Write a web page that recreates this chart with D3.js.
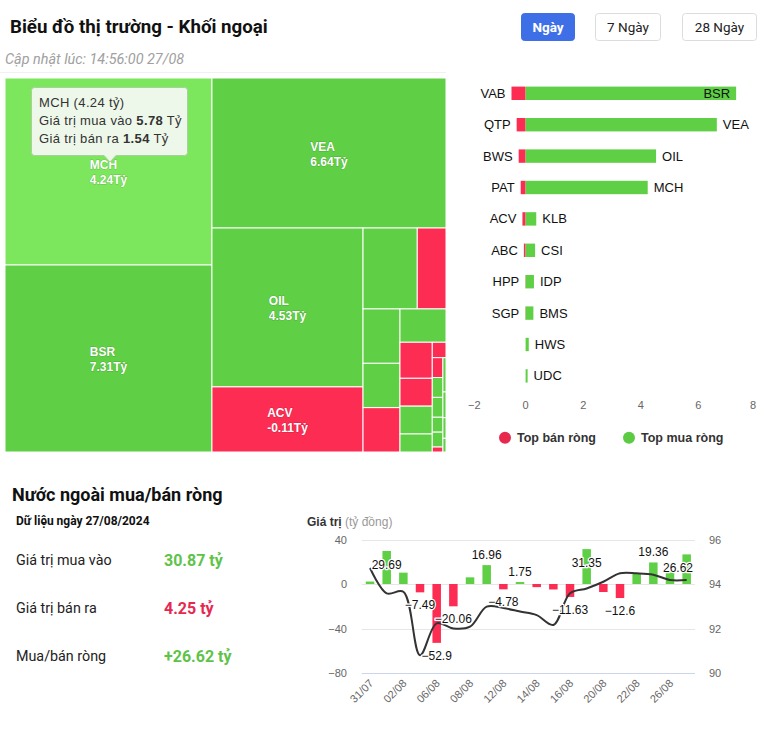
<!DOCTYPE html>
<html><head><meta charset="utf-8">
<script src="https://cdn.jsdelivr.net/npm/d3@7"></script>
<style>
body{margin:0;background:#fff;}
svg{display:block;}
</style></head><body>
<svg id="c" width="764" height="732"></svg>
<script>
// ---------------- DATA ----------------
// Treemap (size = total traded value, net = net buy value, tỷ đồng)
const tmNames = ["MCH","BSR","VEA","OIL","ACV","KLB","VAB","CSI","IDP","QTP","BMS","BWS","PAT","HWS","UDC","ABC","HPP","","","","","SGP","","","",""];
const tmSize  = [7.32,7.32,6.64,4.54,1.86,0.83,0.44,0.38,0.31,0.31,0.29,0.22,0.17,0.17,0.11,0.04,0.04,0.04,0.04,0.03,0.03,0.01,0.02,0.015,0.012,0.008];
const tmNet   = [4.24,7.31,6.64,4.53,-0.11,0.37,-0.44,0.33,0.29,-0.31,0.27,-0.22,-0.17,0.11,0.07,-0.04,-0.01,0.02,0.02,0.01,0.01,-0.01,0.01,0.01,0.01,0.005];
const tmLabeled = ["MCH","BSR","VEA","OIL","ACV"];
const tipName = "MCH", tipNet = 4.24, tipBuy = 5.78, tipSell = 1.54;

// Top net sell / net buy
const sellNames = ["VAB","QTP","BWS","PAT","ACV","ABC","HPP","SGP"];
const sellValues = [-0.49,-0.31,-0.24,-0.17,-0.11,-0.06,-0.01,-0.01];
const buyNames = ["BSR","VEA","OIL","MCH","KLB","CSI","IDP","BMS","HWS","UDC"];
const buyValues = [7.31,6.64,4.53,4.24,0.37,0.33,0.29,0.27,0.11,0.07];
const barTicks = [-2,0,2,4,6,8];

// Net foreign flow history
const dates = ["31/07","01/08","02/08","05/08","06/08","07/08","08/08","09/08","12/08","13/08","14/08","15/08","16/08","19/08","20/08","21/08","22/08","23/08","26/08","27/08"];
const netValues = [2.2,29.69,10.2,-7.49,-52.9,-20.06,6.0,16.96,-4.78,1.75,-2.8,-4.9,-11.63,31.35,-7.2,-12.6,9.2,19.36,12.4,26.62];
const lineValues = [94.72,93.58,93.65,90.8,92.23,92.0,92.08,92.98,92.92,92.76,92.6,92.16,93.58,93.8,94.1,94.48,94.48,94.42,94.18,94.18];
const labeledDates = ["01/08","05/08","06/08","07/08","09/08","12/08","13/08","16/08","19/08","21/08","23/08","27/08"];
const leftTicks = [40,0,-40,-80];
const rightTicks = [96,94,92,90];

// Summary
const sumLabels = ["Giá trị mua vào","Giá trị bán ra","Mua/bán ròng"];
const sumValues = ["30.87 tỷ","4.25 tỷ","+26.62 tỷ"];
const sumKinds = ["buy","sell","buy"];

// ---------------- STYLE ----------------
const GREEN = "#5fcf45", RED = "#fd2c53", HOVER = "#7ce65c";
const chartFont = "'Liberation Sans', Arial, sans-serif";
const pageFont = "Roboto, 'Liberation Sans', sans-serif";
const svg = d3.select("#c");
const fmtMinus = v => (v < 0 ? "\u2212" : "") + Math.abs(v);

// ---------------- HEADER ----------------
svg.append("text").attr("x",10).attr("y",33).attr("font-family",pageFont).attr("font-weight",700)
  .attr("font-size",18.7).attr("fill","#111").text("Biểu đồ thị trường - Khối ngoại");
svg.append("text").attr("x",5).attr("y",64).attr("font-family",pageFont).attr("font-style","italic")
  .attr("font-size",14.4).attr("fill","#a0a0a0").text("Cập nhật lúc: 14:56:00 27/08");
const buttons = [{t:"Ngày",x:521,w:53,on:true},{t:"7 Ngày",x:595,w:65},{t:"28 Ngày",x:682,w:74}];
buttons.forEach(b=>{
  svg.append("rect").attr("x",b.x+0.5).attr("y",13.5).attr("width",b.w).attr("height",27).attr("rx",3)
    .attr("fill",b.on?"#3f6fe6":"#fff").attr("stroke",b.on?"#3f6fe6":"#dcdcdc");
  svg.append("text").attr("x",b.x+b.w/2+0.5).attr("y",31.5).attr("text-anchor","middle")
    .attr("font-family",pageFont).attr("font-size",13.5).attr("font-weight",b.on?700:400)
    .attr("fill",b.on?"#fff":"#222").text(b.t);
});
svg.append("line").attr("x1",0).attr("x2",446).attr("y1",72.5).attr("y2",72.5).attr("stroke","#f1f1f1");

// ---------------- TREEMAP ----------------
function tileHC(parent, x0, y0, x1, y1) {
  const kids = parent.children, n = kids.length;
  const PW = x1 - x0, PH = y1 - y0, area = PW * PH;
  const ar = (w, h) => Math.max(w / h, h / w);
  const g = {height:PH,width:PW,dir:0,total:0,nW:0,lW:0,nH:0,lH:0,els:[],nodes:[]};
  const lp = {};
  let px = x0, py = y0;
  function add(a, node) {
    lp.total = g.els[g.els.length-1];
    g.total += a;
    if (g.dir === 0) {
      g.lW = g.nW; lp.lH = lp.total / g.lW; lp.lR = ar(g.lW, lp.lH);
      g.nW = g.total / g.height; lp.nH = lp.total / g.nW; lp.nR = ar(g.nW, lp.nH);
    } else {
      g.lH = g.nH; lp.lW = lp.total / g.lH; lp.lR = ar(lp.lW, g.lH);
      g.nH = g.total / g.width; lp.nW = lp.total / g.nH; lp.nR = ar(lp.nW, g.nH);
    }
    g.els.push(a); g.nodes.push(node);
  }
  function calc(last) {
    let gW = g.lW, gH = g.lH, keep, keepNode;
    if (last) { gW = g.nW; gH = g.nH; } else { keep = g.els[g.els.length-1]; keepNode = g.nodes[g.nodes.length-1]; }
    const end = g.els.length - 1;
    g.els.forEach((p, i) => {
      if (last || i < end) {
        const nd = g.nodes[i]; let w, h;
        if (g.dir === 0) { w = gW; h = p / w; } else { h = gH; w = p / h; }
        nd.x0 = px; nd.y0 = py; nd.x1 = px + w; nd.y1 = py + h;
        if (g.dir === 0) py += h; else px += w;
      }
    });
    g.nW = 0; g.lW = 0; g.els = []; g.nodes = []; g.total = 0;
    if (g.dir === 0) g.width -= gW; else g.height -= gH;
    py = y0 + (PH - g.height); px = x0 + (PW - g.width);
    g.dir = 1 - g.dir;
    if (!last) add(keep, keepNode);
  }
  kids.forEach((k, i) => {
    add(area * (k.value / parent.value), k);
    if (lp.nR > lp.lR) calc(false);
    if (i === n - 1) calc(true);
  });
}
const tmData = {children: tmSize.map((s,i)=>({name:tmNames[i], size:s, net:tmNet[i]}))};
const root = d3.hierarchy(tmData).sum(d=>d.size||0);
d3.treemap().size([441,374]).tile(tileHC)(root);
const tm = svg.append("g").attr("transform","translate(5,78)");
const leaves = root.leaves();
tm.selectAll("rect").data(leaves).join("rect")
  .attr("x",d=>d.x0).attr("y",d=>d.y0)
  .attr("width",d=>Math.max(0,d.x1-d.x0)).attr("height",d=>Math.max(0,d.y1-d.y0))
  .attr("fill",d=>d.data.name===tipName?HOVER:(d.data.net<0?RED:GREEN))
  .attr("stroke","#fff").attr("stroke-width",1);
leaves.filter(d=>tmLabeled.includes(d.data.name)).forEach(d=>{
  const cx=(d.x0+d.x1)/2, cy=(d.y0+d.y1)/2;
  const t = tm.append("text").attr("font-family",chartFont).attr("font-weight",700).attr("font-size",12)
    .attr("fill","#fff").attr("stroke","rgba(0,0,0,0.18)").attr("stroke-width",1).attr("paint-order","stroke");
  const l1 = t.append("tspan").attr("y",cy-2.5).text(d.data.name);
  const l2 = t.append("tspan").attr("y",cy+12.5).text(d.data.net.toFixed(2)+"Tỷ");
  const w = Math.max(l1.node().getComputedTextLength(), l2.node().getComputedTextLength());
  l1.attr("x",cx-w/2); l2.attr("x",cx-w/2);
});
// Tooltip
const tip = svg.append("g").attr("transform","translate(31,87)");
tip.append("path").attr("d","M3.5,0.5 H153.5 Q156.5,0.5 156.5,3.5 V65.5 Q156.5,68.5 153.5,68.5 H85 L79,75 L73,68.5 H3.5 Q0.5,68.5 0.5,65.5 V3.5 Q0.5,0.5 3.5,0.5 Z")
  .attr("fill","#eef8ea").attr("stroke","#a9cf9c").attr("stroke-width",1);
const tipT = tip.append("text").attr("font-family",chartFont).attr("font-size",13).attr("letter-spacing",0.35).attr("fill","#333");
tipT.append("tspan").attr("x",8).attr("y",19.5).text(`${tipName} (${tipNet} tỷ)`);
tipT.append("tspan").attr("x",8).attr("y",37.5).text("Giá trị mua vào ");
tipT.append("tspan").attr("font-weight",700).text(tipBuy.toFixed(2));
tipT.append("tspan").text(" Tỷ");
tipT.append("tspan").attr("x",8).attr("y",55.5).text("Giá trị bán ra ");
tipT.append("tspan").attr("font-weight",700).text(tipSell.toFixed(2));
tipT.append("tspan").text(" Tỷ");

// ---------------- TOP BUY/SELL BARS ----------------
const bx = d3.scaleLinear().domain([-2,8]).range([468,756]);
const by = d3.scaleBand().domain(d3.range(10)).range([77.6,391.6]);
const bh = 13.4;
const bg = svg.append("g").attr("font-family",chartFont);
bg.selectAll("rect.s").data(sellValues).join("rect").attr("class","s")
  .attr("x",d=>bx(d)).attr("width",d=>bx(0)-bx(d))
  .attr("y",(d,i)=>by(i)+by.bandwidth()/2-bh/2).attr("height",bh).attr("fill",RED);
bg.selectAll("rect.b").data(buyValues).join("rect").attr("class","b")
  .attr("x",bx(0)).attr("width",d=>bx(d)-bx(0))
  .attr("y",(d,i)=>by(i)+by.bandwidth()/2-bh/2).attr("height",bh).attr("fill",GREEN);
bg.selectAll("text.s").data(sellNames).join("text").attr("class","s")
  .attr("x",(d,i)=>bx(sellValues[i])-6).attr("y",(d,i)=>by(i)+by.bandwidth()/2+4.5)
  .attr("text-anchor","end").attr("font-size",13).attr("fill","#111").text(d=>d);
bg.selectAll("text.b").data(buyNames).join("text").attr("class","b")
  .each(function(d,i){
    const end = bx(buyValues[i]);
    const el = d3.select(this).attr("y",by(i)+by.bandwidth()/2+4.5).attr("font-size",13).attr("fill","#111").text(d);
    if (end + 6 + 30 > 756) el.attr("x",end-6).attr("text-anchor","end");
    else el.attr("x",end+6).attr("text-anchor","start");
  });
bg.selectAll("text.t").data(barTicks).join("text").attr("class","t")
  .attr("x",d=>bx(d)).attr("y",409).attr("font-size",11).attr("fill","#666")
  .attr("text-anchor",(d,i)=>i===0?"start":(i===barTicks.length-1?"end":"middle"))
  .text(d=>fmtMinus(d));
// legend
const legend = [{t:"Top bán ròng",c:"#e8294d",x:505},{t:"Top mua ròng",c:"#5dca44",x:629}];
legend.forEach(l=>{
  bg.append("circle").attr("cx",l.x).attr("cy",437.7).attr("r",6).attr("fill",l.c);
  bg.append("text").attr("x",l.x+12).attr("y",442).attr("font-size",12.5).attr("font-weight",700)
    .attr("fill","#333").text(l.t);
});

// ---------------- SUMMARY (bottom-left) ----------------
svg.append("text").attr("x",12).attr("y",501).attr("font-family",pageFont).attr("font-weight",700)
  .attr("font-size",18).attr("fill","#111").text("Nước ngoài mua/bán ròng");
svg.append("text").attr("x",16).attr("y",525).attr("font-family",pageFont).attr("font-weight",700)
  .attr("font-size",12).attr("fill","#111").text("Dữ liệu ngày 27/08/2024");
sumLabels.forEach((l,i)=>{
  const y = 565 + i*48;
  svg.append("text").attr("x",16).attr("y",y).attr("font-family",pageFont).attr("font-size",14.3)
    .attr("fill","#222").text(l);
  svg.append("text").attr("x",164).attr("y",y+1).attr("font-family",pageFont).attr("font-size",16)
    .attr("font-weight",700).attr("fill",sumKinds[i]==="buy"?"#5ec348":"#e5284f").text(sumValues[i]);
});

// ---------------- HISTORY CHART ----------------
const hx = d3.scaleBand().domain(dates).range([361.7,695]).paddingInner(0.49).paddingOuter(0.245);
const hy = d3.scaleLinear().domain([-80,40]).range([673,539.5]);
const hy2 = d3.scaleLinear().domain([90,96]).range([673,539.5]);
const hg = svg.append("g").attr("font-family",chartFont);
const at = hg.append("text").attr("x",307).attr("y",526).attr("font-size",12);
at.append("tspan").attr("font-weight",700).attr("fill","#333").text("Giá trị ");
at.append("tspan").attr("fill","#999").text("(tỷ đồng)");
leftTicks.forEach(t=>{
  hg.append("line").attr("x1",361.7).attr("x2",695).attr("y1",Math.round(hy(t))+0.5).attr("y2",Math.round(hy(t))+0.5)
    .attr("stroke",t===-80?"#ccd6eb":"#e6e6e6");
});
hg.selectAll("text.yl").data(leftTicks).join("text").attr("class","yl")
  .attr("x",347).attr("y",d=>hy(d)+4).attr("text-anchor","end").attr("font-size",11).attr("fill","#666")
  .text(d=>fmtMinus(d));
hg.selectAll("text.yr").data(rightTicks).join("text").attr("class","yr")
  .attr("x",709).attr("y",d=>hy2(d)+4).attr("font-size",11).attr("fill","#666").text(d=>d);
hg.selectAll("rect.h").data(netValues).join("rect").attr("class","h")
  .attr("x",(d,i)=>hx(dates[i])).attr("width",hx.bandwidth())
  .attr("y",d=>d>=0?hy(d):hy(0)).attr("height",d=>Math.abs(hy(d)-hy(0)))
  .attr("fill",d=>d>=0?GREEN:RED);
const line = d3.line().x((d,i)=>hx(dates[i])+hx.bandwidth()/2).y(d=>hy2(d)).curve(d3.curveCatmullRom.alpha(0.5));
hg.append("path").attr("d",line(lineValues)).attr("fill","none").attr("stroke","#333").attr("stroke-width",2);
// data labels
netValues.forEach((v,i)=>{
  if (!labeledDates.includes(dates[i])) return;
  const cx = hx(dates[i]) + hx.bandwidth()/2;
  let y;
  if (v >= 0) { const top = hy(v); y = (top - 18 < 539.5) ? top + 18 : top - 6; }
  else y = hy(v) + 17;
  const t = hg.append("text").attr("y",y).attr("font-size",12).attr("fill","#111")
    .attr("stroke","#fff").attr("stroke-width",2.5).attr("stroke-linejoin","round").attr("paint-order","stroke")
    .attr("text-anchor","middle").text(fmtMinus(v));
  const w = t.node().getComputedTextLength();
  t.attr("x", Math.min(cx, 693 - w/2));
});
// x labels
dates.forEach((d,i)=>{
  if (i % 2) return;
  const cx = hx(d) + hx.bandwidth()/2;
  hg.append("text").attr("transform",`translate(${cx+4},${684}) rotate(-45)`)
    .attr("text-anchor","end").attr("font-size",11).attr("fill","#666").text(d);
});
</script>
</body></html>
